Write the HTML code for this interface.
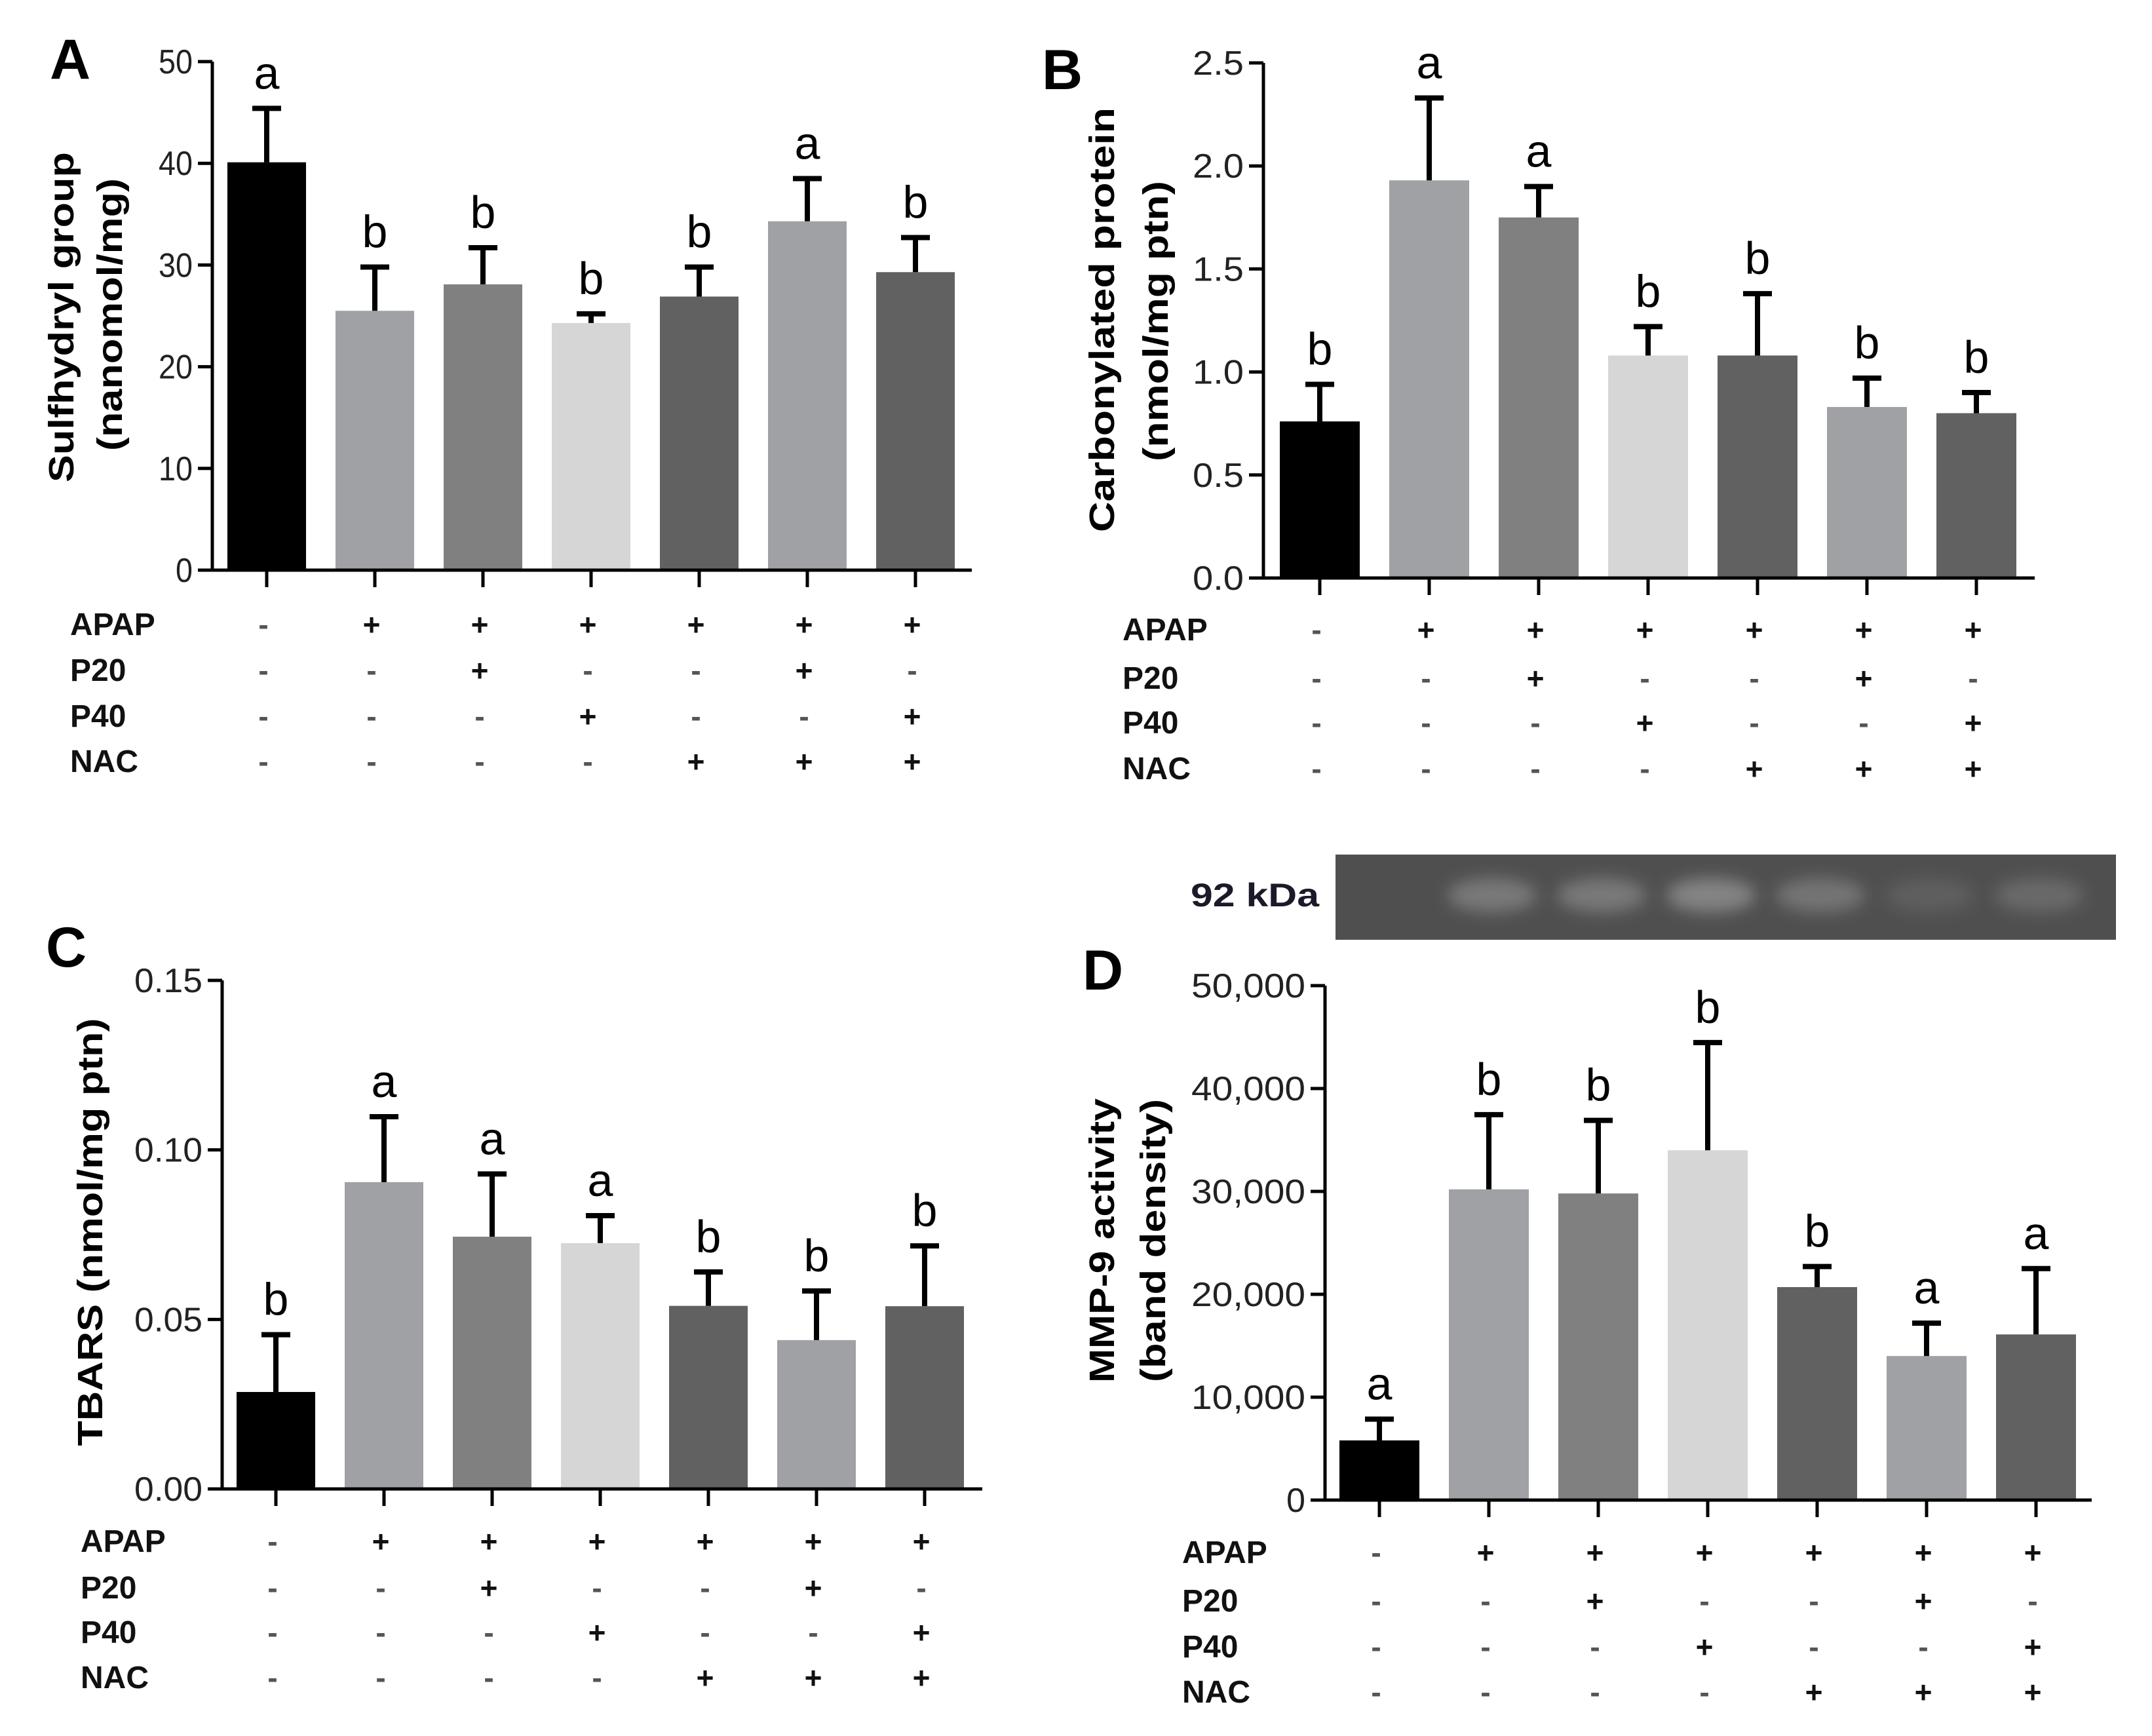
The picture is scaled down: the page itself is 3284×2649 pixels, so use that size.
<!DOCTYPE html>
<html><head><meta charset="utf-8"><style>
html,body{margin:0;padding:0;background:#fff;}
svg{display:block;}
text{font-family:"Liberation Sans",Arial,sans-serif;}
</style></head>
<body>
<svg id="fig" width="3284" height="2649" viewBox="0 0 3284 2649" xmlns="http://www.w3.org/2000/svg">
<rect width="3284" height="2649" fill="#fff"/>
</svg>
<script>
// ---- data ----
const groups = ['ctrl','APAP','APAP+P20','APAP+P40','APAP+NAC','APAP+P20+NAC','APAP+P40+NAC'];
const rowNames = ['APAP','P20','P40','NAC'];
const apapRow = ['-','+','+','+','+','+','+'];
const p20Row  = ['-','-','+','-','-','+','-'];
const p40Row  = ['-','-','-','+','-','-','+'];
const nacRow  = ['-','-','-','-','+','+','+'];
const barColors = ['#000000','#a0a1a5','#808080','#d6d6d6','#616161','#a0a1a5','#616161'];

const aValues = [40.1, 25.5, 28.1, 24.3, 26.9, 34.3, 29.3];
const aErrors = [45.4, 29.8, 31.7, 25.2, 29.8, 38.5, 32.7];
const aLetters = ['a','b','b','b','b','a','b'];
const aTicks = [0,10,20,30,40,50];
const aTickLabels = ['0','10','20','30','40','50'];

const bValues = [0.76, 1.93, 1.75, 1.08, 1.08, 0.83, 0.80];
const bErrors = [0.94, 2.33, 1.90, 1.22, 1.38, 0.97, 0.90];
const bLetters = ['b','a','a','b','b','b','b'];
const bTicks = [0,0.5,1.0,1.5,2.0,2.5];
const bTickLabels = ['0.0','0.5','1.0','1.5','2.0','2.5'];

const cValues = [0.0286, 0.0905, 0.0744, 0.0725, 0.054, 0.0439, 0.0539];
const cErrors = [0.0455, 0.1098, 0.0929, 0.0806, 0.064, 0.0584, 0.0717];
const cLetters = ['b','a','a','a','b','b','b'];
const cTicks = [0,0.05,0.10,0.15];
const cTickLabels = ['0.00','0.05','0.10','0.15'];

const dValues = [5800, 30200, 29800, 34000, 20700, 14000, 16100];
const dErrors = [7870, 37460, 36900, 44470, 22700, 17200, 22500];
const dLetters = ['a','b','b','b','b','a','a'];
const dTicks = [0,10000,20000,30000,40000,50000];
const dTickLabels = ['0','10,000','20,000','30,000','40,000','50,000'];
const bandIntensity = [0, 0.55, 0.55, 0.7, 0.5, 0.2, 0.35];

// ---- drawing ----
const NS = 'http://www.w3.org/2000/svg';
const svg = document.getElementById('fig');
function mk(tag, attrs, parent, txt){
  const e = document.createElementNS(NS, tag);
  for (const k in attrs) e.setAttribute(k, attrs[k]);
  if (txt !== undefined) e.textContent = txt;
  (parent||svg).appendChild(e);
  return e;
}

function panel(p, values, errors, letters, ticks, tickLabels){
  const g = mk('g', {});
  
  
  const ymax = ticks[ticks.length-1];
  const yS = v => p.y0 - (v / ymax) * (p.y0 - p.yTop);
  const xS = i => p.x0c + i * p.step;

  const pl = mk('text', {x:p.letterX, y:p.letterY, 'font-size':86, 'font-weight':'bold', fill:'#000'}, g, p.id.toUpperCase());
  
  

  const tg = mk('g', {}, g);
  
  
  p.titles.forEach(t => {
    mk('text', {x:0, y:0, 'font-size':54, 'font-weight':'bold', 'text-anchor':'middle',
      transform:`translate(${t.x},${t.cy}) rotate(-90)`, textLength:t.len, lengthAdjust:'spacingAndGlyphs', fill:'#000'}, tg, t.text);
  });

  values.forEach((v,i) => {
    const cx = xS(i);
    const r = mk('rect', {x:cx - p.bw/2, y:yS(v), width:p.bw, height:p.y0 - yS(v), fill:barColors[i]}, g);
    
    
    const eTop = yS(errors[i]);
    const eb = mk('path', {d:`M${cx},${yS(v)} V${eTop} M${cx-22},${eTop} H${cx+22}`, stroke:'#000', 'stroke-width':8, fill:'none'}, g);
    
    
    const lt = mk('text', {x:cx, y:eTop - 30, 'font-size':70, 'text-anchor':'middle', fill:'#000'}, g, letters[i]);
    
    
    const tk = mk('line', {x1:cx, y1:p.y0, x2:cx, y2:p.y0+26, stroke:'#000', 'stroke-width':5}, g);
    
    
  });

  const ax = mk('path', {d:`M${p.x0},${p.yTop} V${p.y0} H${p.xEnd}`, stroke:'#000', 'stroke-width':5, fill:'none'}, g);
  
  
  ticks.forEach((t,k) => {
    const y = yS(t);
    const tl = mk('line', {x1:p.x0-22, y1:y, x2:p.x0, y2:y, stroke:'#000', 'stroke-width':5}, g);
    
    
    const lab = tickLabels[k];
    const tx = mk('text', {x:p.x0-30, y:y+18, 'font-size':52, 'text-anchor':'end', fill:'#222',
      textLength:lab.length * p.charW, lengthAdjust:'spacingAndGlyphs'}, g, lab);
    
    
  });

  const rows = [apapRow, p20Row, p40Row, nacRow];
  rows.forEach((row, r) => {
    const y = p.rowY[r];
    const rl = mk('text', {x:p.labelX, y:y+17, 'font-size':48, 'font-weight':'bold', fill:'#111'}, g, rowNames[r]);
    
    
    row.forEach((s,i) => {
      const cx = xS(i) - 5;
      const st = mk('text', {x:cx, y:y+17, 'font-size':46, 'font-weight':'bold', 'text-anchor':'middle', fill: s==='+' ? '#111' : '#555'}, g, s);
      
      
    });
  });
}

panel({id:'a', x0:324, y0:870, yTop:94, xEnd:1483, x0c:407, step:165, bw:120, letterX:76, letterY:120,
  charW:26, labelX:107, rowY:[952,1022,1092,1161],
  titles:[{text:'Sulfhydryl group', x:112, cy:484, len:504},{text:'(nanomol/mg)', x:186, cy:480, len:416}]},
  aValues, aErrors, aLetters, aTicks, aTickLabels);

panel({id:'b', x0:1928, y0:882, yTop:96, xEnd:3105, x0c:2014, step:167, bw:122, letterX:1590, letterY:136,
  charW:26, labelX:1713, rowY:[960,1034,1102,1172],
  titles:[{text:'Carbonylated protein', x:1700, cy:488, len:648},{text:'(nmol/mg ptn)', x:1782, cy:490, len:428}]},
  bValues, bErrors, bLetters, bTicks, bTickLabels);

panel({id:'c', x0:339, y0:2272, yTop:1496, xEnd:1499, x0c:421, step:165, bw:120, letterX:70, letterY:1475,
  charW:26, labelX:123, rowY:[2351,2422,2490,2559],
  titles:[{text:'TBARS (nmol/mg ptn)', x:156, cy:1880, len:653}]},
  cValues, cErrors, cLetters, cTicks, cTickLabels);

panel({id:'d', x0:2022, y0:2289, yTop:1504, xEnd:3192, x0c:2105, step:167, bw:122, letterX:1652, letterY:1510,
  charW:29, labelX:1804, rowY:[2368,2442,2512,2581],
  titles:[{text:'MMP-9 activity', x:1700, cy:1893, len:434},{text:'(band density)', x:1778, cy:1893, len:432}]},
  dValues, dErrors, dLetters, dTicks, dTickLabels);

const gel = mk('g', {});


const defs = mk('defs', {});
const flt = mk('filter', {id:'blur', x:'-50%', y:'-50%', width:'200%', height:'200%'}, defs);
mk('feGaussianBlur', {stdDeviation:12}, flt);
mk('rect', {x:2038, y:1304, width:1191, height:130, fill:'#4f4f4f'}, gel);
bandIntensity.forEach((a,i) => {
  if (a <= 0) return;
  const cx = 2105 + i * 167 + 5;
  const b = mk('ellipse', {cx:cx, cy:1366, rx:68, ry:26, fill:'#9a9a9a', 'fill-opacity':a, filter:'url(#blur)'}, gel);
  
  
});
const kd = mk('text', {x:1817, y:1383, 'font-size':50, 'font-weight':'bold', fill:'#1a1a2a', textLength:196, lengthAdjust:'spacingAndGlyphs'}, svg, '92 kDa');


</script>
</body></html>
